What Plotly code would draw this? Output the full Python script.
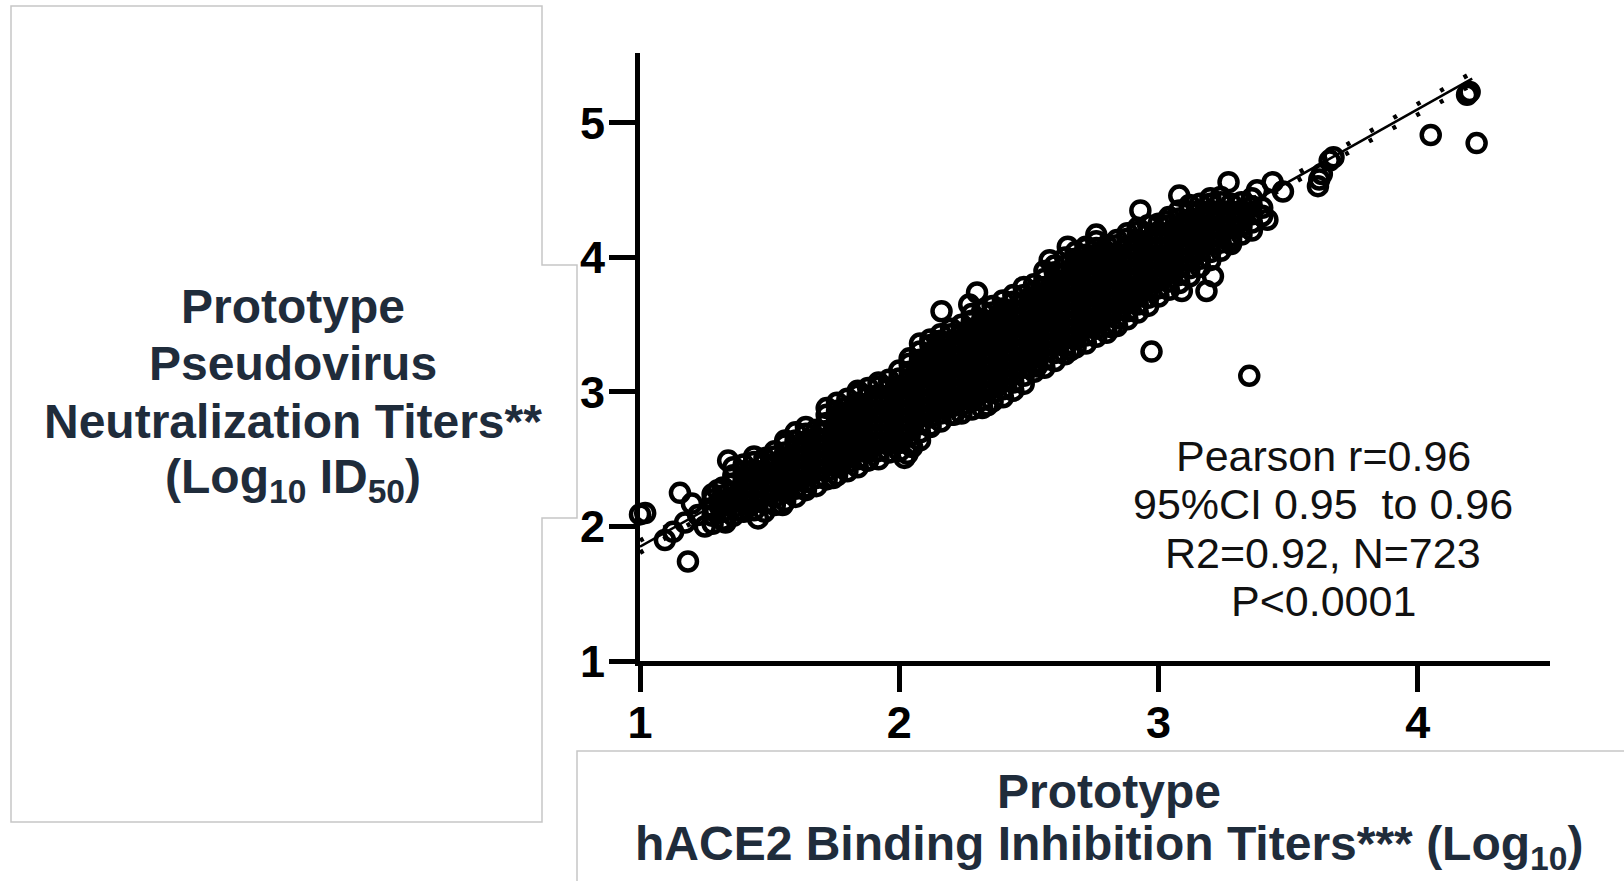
import plotly.graph_objects as go

W, H = 1624, 881
# plot area edges in pixels
PL, PR, PT, PB = 640, 1550, 53, 661

x_range = [1, 4.51]
y_range = [1, 5.52]
x_ticks = [1, 2, 3, 4]
y_ticks = [1, 2, 3, 4, 5]

# Dense cloud, read column by column (x = binding titer, y values = neutralization titers)
column_x = [1.28, 1.32, 1.36, 1.40, 1.44, 1.48, 1.52, 1.56, 1.60, 1.64, 1.68, 1.72, 1.76, 1.80,
            1.84, 1.88, 1.92, 1.96, 2.00, 2.04, 2.08, 2.12, 2.16, 2.20, 2.24, 2.28, 2.32, 2.36,
            2.40, 2.44, 2.48, 2.52, 2.56, 2.60, 2.64, 2.68, 2.72, 2.76, 2.80, 2.84, 2.88, 2.92,
            2.96, 3.00, 3.04, 3.08, 3.12, 3.16, 3.20, 3.24, 3.28, 3.32, 3.36, 3.40]
column_y = [
    [2.02, 2.08, 2.14, 2.20, 2.24],
    [2.05, 2.11, 2.17, 2.23, 2.29],
    [2.08, 2.14, 2.20, 2.26, 2.32, 2.38, 2.44],
    [2.11, 2.17, 2.23, 2.29, 2.35, 2.41, 2.46],
    [2.12, 2.18, 2.24, 2.30, 2.36, 2.42, 2.48, 2.52],
    [2.11, 2.17, 2.23, 2.29, 2.35, 2.41, 2.47, 2.51],
    [2.16, 2.22, 2.28, 2.34, 2.40, 2.46, 2.52, 2.56],
    [2.19, 2.25, 2.31, 2.37, 2.43, 2.49, 2.55, 2.61, 2.64],
    [2.22, 2.28, 2.34, 2.40, 2.46, 2.52, 2.58, 2.64, 2.70],
    [2.27, 2.33, 2.39, 2.45, 2.51, 2.57, 2.63, 2.69, 2.74],
    [2.30, 2.36, 2.42, 2.48, 2.54, 2.60, 2.66, 2.72],
    [2.35, 2.41, 2.47, 2.53, 2.59, 2.65, 2.71, 2.77, 2.83, 2.88],
    [2.38, 2.44, 2.50, 2.56, 2.62, 2.68, 2.74, 2.80, 2.86, 2.92],
    [2.41, 2.47, 2.53, 2.59, 2.65, 2.71, 2.77, 2.83, 2.89, 2.95],
    [2.44, 2.50, 2.56, 2.62, 2.68, 2.74, 2.80, 2.86, 2.92, 2.98, 3.01],
    [2.49, 2.55, 2.61, 2.67, 2.73, 2.79, 2.85, 2.91, 2.97, 3.03],
    [2.50, 2.56, 2.62, 2.68, 2.74, 2.80, 2.86, 2.92, 2.98, 3.04, 3.07],
    [2.55, 2.61, 2.67, 2.73, 2.79, 2.85, 2.91, 2.97, 3.03, 3.09],
    [2.56, 2.62, 2.68, 2.74, 2.80, 2.86, 2.92, 2.98, 3.04, 3.10, 3.16],
    [2.61, 2.67, 2.73, 2.79, 2.85, 2.91, 2.97, 3.03, 3.09, 3.15, 3.21, 3.25],
    [2.64, 2.70, 2.76, 2.82, 2.88, 2.94, 3.00, 3.06, 3.12, 3.18, 3.24, 3.30, 3.36],
    [2.75, 2.81, 2.87, 2.93, 2.99, 3.05, 3.11, 3.17, 3.23, 3.29, 3.35, 3.39],
    [2.78, 2.84, 2.90, 2.96, 3.02, 3.08, 3.14, 3.20, 3.26, 3.32, 3.38, 3.43],
    [2.83, 2.89, 2.95, 3.01, 3.07, 3.13, 3.19, 3.25, 3.31, 3.37, 3.43, 3.47],
    [2.84, 2.90, 2.96, 3.02, 3.08, 3.14, 3.20, 3.26, 3.32, 3.38, 3.44, 3.50],
    [2.87, 2.93, 2.99, 3.05, 3.11, 3.17, 3.23, 3.29, 3.35, 3.41, 3.47, 3.53, 3.58],
    [2.88, 2.94, 3.00, 3.06, 3.12, 3.18, 3.24, 3.30, 3.36, 3.42, 3.48, 3.54, 3.60],
    [2.93, 2.99, 3.05, 3.11, 3.17, 3.23, 3.29, 3.35, 3.41, 3.47, 3.53, 3.59, 3.64],
    [2.96, 3.02, 3.08, 3.14, 3.20, 3.26, 3.32, 3.38, 3.44, 3.50, 3.56, 3.62, 3.68],
    [3.01, 3.07, 3.13, 3.19, 3.25, 3.31, 3.37, 3.43, 3.49, 3.55, 3.61, 3.67, 3.72],
    [3.06, 3.12, 3.18, 3.24, 3.30, 3.36, 3.42, 3.48, 3.54, 3.60, 3.66, 3.72, 3.78],
    [3.15, 3.21, 3.27, 3.33, 3.39, 3.45, 3.51, 3.57, 3.63, 3.69, 3.75, 3.80],
    [3.18, 3.24, 3.30, 3.36, 3.42, 3.48, 3.54, 3.60, 3.66, 3.72, 3.78, 3.84, 3.90],
    [3.23, 3.29, 3.35, 3.41, 3.47, 3.53, 3.59, 3.65, 3.71, 3.77, 3.83, 3.89, 3.94],
    [3.28, 3.34, 3.40, 3.46, 3.52, 3.58, 3.64, 3.70, 3.76, 3.82, 3.88, 3.94, 4.00],
    [3.33, 3.39, 3.45, 3.51, 3.57, 3.63, 3.69, 3.75, 3.81, 3.87, 3.93, 3.99, 4.04],
    [3.36, 3.42, 3.48, 3.54, 3.60, 3.66, 3.72, 3.78, 3.84, 3.90, 3.96, 4.02, 4.08],
    [3.41, 3.47, 3.53, 3.59, 3.65, 3.71, 3.77, 3.83, 3.89, 3.95, 4.01, 4.07, 4.12],
    [3.44, 3.50, 3.56, 3.62, 3.68, 3.74, 3.80, 3.86, 3.92, 3.98, 4.04, 4.09],
    [3.49, 3.55, 3.61, 3.67, 3.73, 3.79, 3.85, 3.91, 3.97, 4.03, 4.09, 4.13],
    [3.54, 3.60, 3.66, 3.72, 3.78, 3.84, 3.90, 3.96, 4.02, 4.08, 4.14, 4.18],
    [3.59, 3.65, 3.71, 3.77, 3.83, 3.89, 3.95, 4.01, 4.07, 4.13, 4.19, 4.22],
    [3.64, 3.70, 3.76, 3.82, 3.88, 3.94, 4.00, 4.06, 4.12, 4.18, 4.24],
    [3.71, 3.77, 3.83, 3.89, 3.95, 4.01, 4.07, 4.13, 4.19, 4.25],
    [3.76, 3.82, 3.88, 3.94, 4.00, 4.06, 4.12, 4.18, 4.24, 4.30],
    [3.81, 3.87, 3.93, 3.99, 4.05, 4.11, 4.17, 4.23, 4.29, 4.35],
    [3.86, 3.92, 3.98, 4.04, 4.10, 4.16, 4.22, 4.28, 4.34, 4.39],
    [3.93, 3.99, 4.05, 4.11, 4.17, 4.23, 4.29, 4.35, 4.40],
    [3.98, 4.04, 4.10, 4.16, 4.22, 4.28, 4.34, 4.40, 4.44],
    [4.05, 4.11, 4.17, 4.23, 4.29, 4.35, 4.41, 4.45],
    [4.10, 4.16, 4.22, 4.28, 4.34, 4.40],
    [4.17, 4.23, 4.29, 4.35, 4.41],
    [4.20, 4.26, 4.32, 4.38, 4.44],
    [4.31, 4.37],
]

# Edge points and outliers
extra_x = [1.00, 1.02, 1.096, 1.128, 1.154, 1.185, 1.20, 1.174, 1.224, 1.25, 1.30, 1.33, 1.34,
           1.386, 1.455, 1.55, 1.636, 1.745, 1.875, 2.02, 2.032, 2.05, 2.12, 2.163, 2.27, 2.30,
           2.21, 2.34, 2.53, 2.66, 2.82, 2.65, 2.72, 2.76, 2.58, 2.93, 2.973, 3.03, 3.08, 3.09,
           3.185, 3.21, 3.27, 3.28, 3.35, 3.38, 3.42, 3.44, 3.48, 3.615, 3.62, 3.63, 3.66, 3.675,
           4.05, 4.19, 4.20, 4.227]
extra_y = [2.09, 2.10, 1.90, 1.96, 2.25, 1.74, 2.17, 2.03, 2.085, 2.00, 2.27, 2.03, 2.49,
           2.12, 2.06, 2.16, 2.29, 2.36, 2.49, 2.51, 2.54, 2.59, 2.74, 3.60, 3.65, 3.74,
           2.83, 2.90, 3.19, 3.31, 3.48, 4.08, 4.07, 4.17, 3.98, 4.35, 3.30, 4.27, 4.46, 3.75,
           3.75, 3.86, 4.56, 4.13, 3.12, 4.50, 4.28, 4.56, 4.49, 4.53, 4.58, 4.62, 4.72, 4.745,
           4.91, 5.21, 5.23, 4.85]

# Linear fit and its 95% confidence band
fit_x = [1.0, 4.21]
fit_y = [1.85, 5.33]
ci_x = [1.0, 2.4, 3.0, 3.6, 4.21]
ci_upper = [1.895, 3.378, 4.033, 4.698, 5.375]
ci_lower = [1.805, 3.358, 4.003, 4.638, 5.285]

stats_lines = ["Pearson r=0.96", "95%CI 0.95\u00a0\u00a0to 0.96", "R2=0.92, N=723", "P<0.0001"]
stats_y_px = [456, 504, 553, 601]

y_title_lines = ["Prototype", "Pseudovirus", "Neutralization Titers**",
                 "(Log<sub>10</sub> ID<sub>50</sub>)"]
y_title_px = [306, 363, 421, 480]
x_title_lines = ["Prototype", "hACE2 Binding Inhibition Titers*** (Log<sub>10</sub>)"]
x_title_px = [791, 847]

TEXT = "#1f2c3b"
FONT = "Liberation Sans, Arial, sans-serif"


def pxx(p):
    return (p - PL) / (PR - PL)


def pxy(p):
    return (PB - p) / (PB - PT)


bx, ny = [], []
for cx, ys in zip(column_x, column_y):
    for v in ys:
        bx.append(cx)
        ny.append(v)
bx += extra_x
ny += extra_y

fig = go.Figure()
for cy in (ci_upper, ci_lower):
    fig.add_trace(go.Scatter(x=ci_x, y=cy, mode="lines",
                             line=dict(color="black", width=4.5, dash="4px,23px"),
                             hoverinfo="skip", showlegend=False))
fig.add_trace(go.Scatter(x=fit_x, y=fit_y, mode="lines",
                         line=dict(color="black", width=2.5), showlegend=False))
fig.add_trace(go.Scatter(x=bx, y=ny, mode="markers", cliponaxis=False,
                         marker=dict(symbol="circle-open", size=18, color="black",
                                     line=dict(width=4.5, color="black")),
                         showlegend=False))

annotations = []
for t, yp in zip(stats_lines, stats_y_px):
    annotations.append(dict(x=pxx(1323), y=pxy(yp), xref="paper", yref="paper", text=t,
                            showarrow=False, xanchor="center", yanchor="middle",
                            font=dict(family=FONT, size=43, color="#111111")))
for t, yp in zip(y_title_lines, y_title_px):
    annotations.append(dict(x=pxx(293), y=pxy(yp), xref="paper", yref="paper", text=t,
                            showarrow=False, xanchor="center", yanchor="middle",
                            font=dict(family=FONT, size=48, color=TEXT, weight="bold")))
for t, yp in zip(x_title_lines, x_title_px):
    annotations.append(dict(x=pxx(1109), y=pxy(yp), xref="paper", yref="paper", text=t,
                            showarrow=False, xanchor="center", yanchor="middle",
                            font=dict(family=FONT, size=48, color=TEXT, weight="bold")))

box_left = ("M {a},{b} L {c},{b} L {c},{d} L {e},{d} L {e},{f} L {c},{f} L {c},{g} L {a},{g} Z"
            .format(a=pxx(11), b=pxy(6), c=pxx(542), d=pxy(265), e=pxx(577), f=pxy(518), g=pxy(822)))
box_bottom = "M {a},{b} L {a},{c} L {d},{c}".format(a=pxx(577), b=pxy(890), c=pxy(751), d=pxx(1640))
shapes = [
    dict(type="path", path=box_left, xref="paper", yref="paper",
         line=dict(color="#c6c6c6", width=1.5), layer="below"),
    dict(type="path", path=box_bottom, xref="paper", yref="paper",
         line=dict(color="#c6c6c6", width=1.5), layer="below"),
]

axis_common = dict(showline=True, linewidth=5, linecolor="black", ticks="outside",
                   ticklen=26, tickwidth=5, tickcolor="black", showgrid=False, zeroline=False,
                   tickfont=dict(family=FONT, size=45, color="black", weight="bold"))
fig.update_layout(
    width=W, height=H,
    margin=dict(l=PL, r=W - PR, t=PT, b=H - PB, pad=0),
    paper_bgcolor="white", plot_bgcolor="white",
    xaxis=dict(range=x_range, tickvals=x_ticks, ticklabelstandoff=-8, **axis_common),
    yaxis=dict(range=y_range, tickvals=y_ticks, ticklabelstandoff=-5, **axis_common),
    annotations=annotations, shapes=shapes, showlegend=False,
)
fig.write_html("out.html", config={"displayModeBar": False},
               post_script="document.body.style.margin='0';")
